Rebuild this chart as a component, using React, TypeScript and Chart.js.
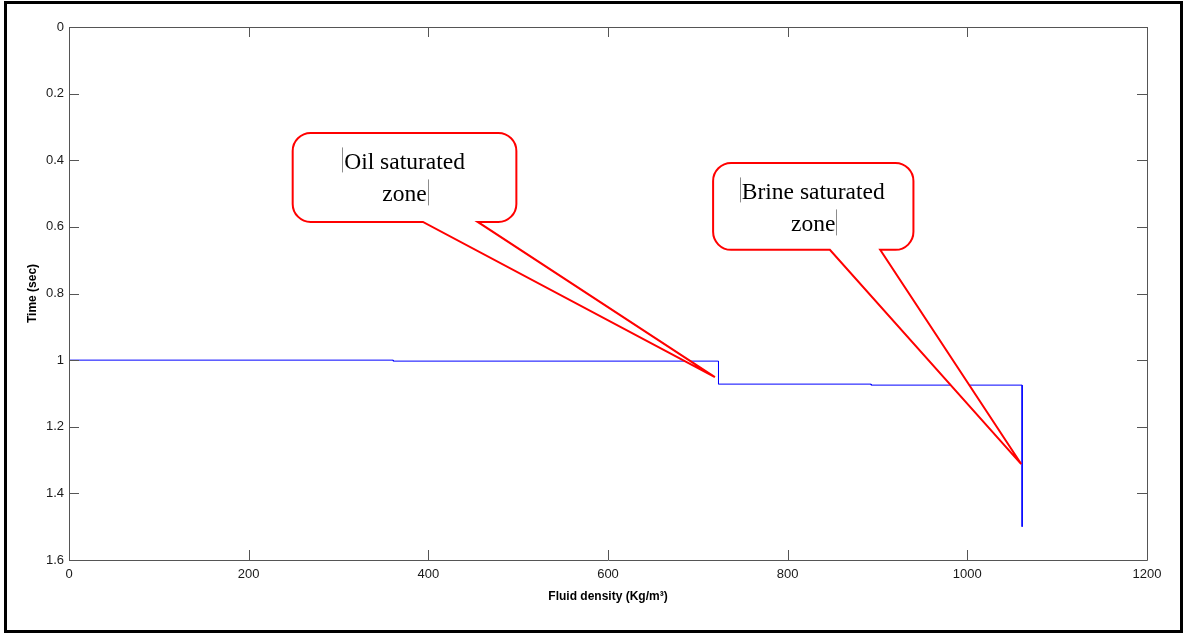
import React, { useEffect, useRef } from "react";
import { Chart, registerables } from "chart.js";

Chart.register(...registerables);

// ---- data ----
const densityKgM3 = [0, 361, 361, 723, 723, 893, 893, 1061, 1061];
const timeSec = [1.0, 1.0, 1.003, 1.003, 1.072, 1.072, 1.075, 1.075, 1.5];

const xMin = 0;
const xMax = 1200;
const xStep = 200;
const yMin = 0;
const yMax = 1.6;
const yStep = 0.2;

const xTitle = "Fluid density (Kg/m³)";
const yTitle = "Time (sec)";

// callout annotations in data coordinates
const calloutLines1 = ["Oil saturated", "zone"];
const calloutBox1 = [249, 0.318, 498, 0.585];
const calloutGap1 = [394, 455];
const calloutTip1 = [719, 1.051];

const calloutLines2 = ["Brine saturated", "zone"];
const calloutBox2 = [717, 0.408, 940, 0.669];
const calloutGap2 = [847, 903];
const calloutTip2 = [1060, 1.312];

const callouts = [
  { lines: calloutLines1, box: calloutBox1, gap: calloutGap1, tip: calloutTip1 },
  { lines: calloutLines2, box: calloutBox2, gap: calloutGap2, tip: calloutTip2 },
];

const W = 1184;
const H = 634;

const framePlugin = {
  id: "matlabFrame",
  beforeDraw(chart: any) {
    const ctx = chart.ctx;
    ctx.save();
    ctx.fillStyle = "#ffffff";
    ctx.fillRect(0, 0, chart.width, chart.height);
    ctx.restore();
  },
  afterDatasetsDraw(chart: any) {
    const ctx = chart.ctx;
    const { left, right, top, bottom } = chart.chartArea;
    const xs = chart.scales.x;
    const ys = chart.scales.y;
    ctx.save();
    ctx.strokeStyle = "#555555";
    ctx.lineWidth = 1;
    ctx.beginPath();
    ctx.rect(Math.round(left) + 0.5, Math.round(top) + 0.5, Math.round(right - left), Math.round(bottom - top));
    ctx.stroke();
    const tl = 10;
    ctx.beginPath();
    xs.ticks.forEach((t: any) => {
      const px = Math.round(xs.getPixelForValue(t.value)) + 0.5;
      ctx.moveTo(px, bottom);
      ctx.lineTo(px, bottom - tl);
      ctx.moveTo(px, top);
      ctx.lineTo(px, top + tl);
    });
    ys.ticks.forEach((t: any) => {
      const py = Math.round(ys.getPixelForValue(t.value)) + 0.5;
      ctx.moveTo(left, py);
      ctx.lineTo(left + tl, py);
      ctx.moveTo(right, py);
      ctx.lineTo(right - tl, py);
    });
    ctx.stroke();
    ctx.restore();
  },
  afterDraw(chart: any) {
    const ctx = chart.ctx;
    const xs = chart.scales.x;
    const ys = chart.scales.y;
    ctx.save();
    // callouts
    callouts.forEach((c) => {
      const x1 = xs.getPixelForValue(c.box[0]);
      const y1 = ys.getPixelForValue(c.box[1]);
      const x2 = xs.getPixelForValue(c.box[2]);
      const y2 = ys.getPixelForValue(c.box[3]);
      const g1 = xs.getPixelForValue(c.gap[0]);
      const g2 = xs.getPixelForValue(c.gap[1]);
      const tx = xs.getPixelForValue(c.tip[0]);
      const ty = ys.getPixelForValue(c.tip[1]);
      const r = 18;
      ctx.beginPath();
      ctx.moveTo(x1 + r, y1);
      ctx.lineTo(x2 - r, y1);
      ctx.arcTo(x2, y1, x2, y1 + r, r);
      ctx.lineTo(x2, y2 - r);
      ctx.arcTo(x2, y2, x2 - r, y2, r);
      ctx.lineTo(g2, y2);
      ctx.lineTo(tx, ty);
      ctx.lineTo(g1, y2);
      ctx.lineTo(x1 + r, y2);
      ctx.arcTo(x1, y2, x1, y2 - r, r);
      ctx.lineTo(x1, y1 + r);
      ctx.arcTo(x1, y1, x1 + r, y1, r);
      ctx.closePath();
      ctx.fillStyle = "#ffffff";
      ctx.fill();
      ctx.strokeStyle = "#ff0000";
      ctx.lineWidth = 2;
      ctx.lineJoin = "miter";
      ctx.stroke();

      const cx = (x1 + x2) / 2;
      ctx.font = '23.5px "Liberation Serif", "Times New Roman", serif';
      ctx.fillStyle = "#000000";
      ctx.textAlign = "center";
      ctx.textBaseline = "alphabetic";
      const b1 = y1 + 36.5;
      const b2 = y1 + 68.5;
      ctx.fillText(c.lines[0], cx, b1);
      ctx.fillText(c.lines[1], cx, b2);
      // text-edit marker bars
      const w1 = ctx.measureText(c.lines[0]).width;
      const w2 = ctx.measureText(c.lines[1]).width;
      ctx.strokeStyle = "#8c8c8c";
      ctx.lineWidth = 1;
      ctx.beginPath();
      const bx1 = Math.round(cx - w1 / 2 - 2) + 0.5;
      ctx.moveTo(bx1, b1 - 22);
      ctx.lineTo(bx1, b1 + 3);
      const bx2 = Math.round(cx + w2 / 2 + 1) + 0.5;
      ctx.moveTo(bx2, b2 - 22);
      ctx.lineTo(bx2, b2 + 4);
      ctx.stroke();
    });
    // outer frame
    ctx.strokeStyle = "#000000";
    ctx.lineWidth = 3;
    ctx.strokeRect(5.5, 2.5, 1176, 629);
    ctx.restore();
  },
};

export default function App() {
  const canvasRef = useRef<HTMLCanvasElement | null>(null);

  useEffect(() => {
    const prevMargin = document.body.style.margin;
    document.body.style.margin = "0";
    const canvas = canvasRef.current;
    if (!canvas) return;
    const points = densityKgM3.map((x, i) => ({ x, y: timeSec[i] }));
    const tickFont = { family: '"Liberation Sans", Arial, sans-serif', size: 13 };
    const titleFont = { family: '"Liberation Sans", Arial, sans-serif', size: 12, weight: "bold" as const };
    const chart = new Chart(canvas, {
      type: "line",
      data: {
        datasets: [
          {
            data: points,
            borderColor: "#0000ff",
            borderWidth: 1,
            pointRadius: 0,
            tension: 0,
            fill: false,
          },
        ],
      },
      options: {
        animation: false,
        responsive: false,
        maintainAspectRatio: false,
        devicePixelRatio: 1,
        layout: { padding: { left: 0, top: 27, right: 37, bottom: 0 } },
        plugins: { legend: { display: false }, tooltip: { enabled: false } },
        scales: {
          x: {
            type: "linear",
            min: xMin,
            max: xMax,
            grid: { display: false, drawTicks: false },
            border: { display: false },
            ticks: {
              stepSize: xStep,
              font: tickFont,
              color: "#1a1a1a",
              padding: 7,
              maxRotation: 0,
              autoSkip: false,
              callback: (v: any) => String(Math.round(Number(v))),
            },
            title: {
              display: true,
              text: xTitle,
              font: titleFont,
              color: "#000000",
              padding: { top: 0, bottom: 30 },
            },
            afterFit: (scale: any) => {
              scale.height = 74;
              scale.paddingLeft = 0;
              scale.paddingRight = 0;
            },
          },
          y: {
            type: "linear",
            reverse: true,
            min: yMin,
            max: yMax,
            grid: { display: false, drawTicks: false },
            border: { display: false },
            ticks: {
              stepSize: yStep,
              font: tickFont,
              color: "#1a1a1a",
              padding: 5,
              autoSkip: false,
              callback: (v: any) => String(Number(Number(v).toFixed(1))),
            },
            title: {
              display: true,
              text: yTitle,
              font: titleFont,
              color: "#000000",
              padding: { top: 25, bottom: 0 },
            },
            afterFit: (scale: any) => {
              scale.width = 69;
              scale.paddingTop = 0;
              scale.paddingBottom = 0;
            },
          },
        },
      },
      plugins: [framePlugin],
    });
    return () => {
      chart.destroy();
      document.body.style.margin = prevMargin;
    };
  }, []);

  return (
    <div style={{ position: "fixed", left: 0, top: 0, width: W, height: H, background: "#fff" }}>
      <canvas ref={canvasRef} width={W} height={H} style={{ display: "block", width: W, height: H }} />
    </div>
  );
}
